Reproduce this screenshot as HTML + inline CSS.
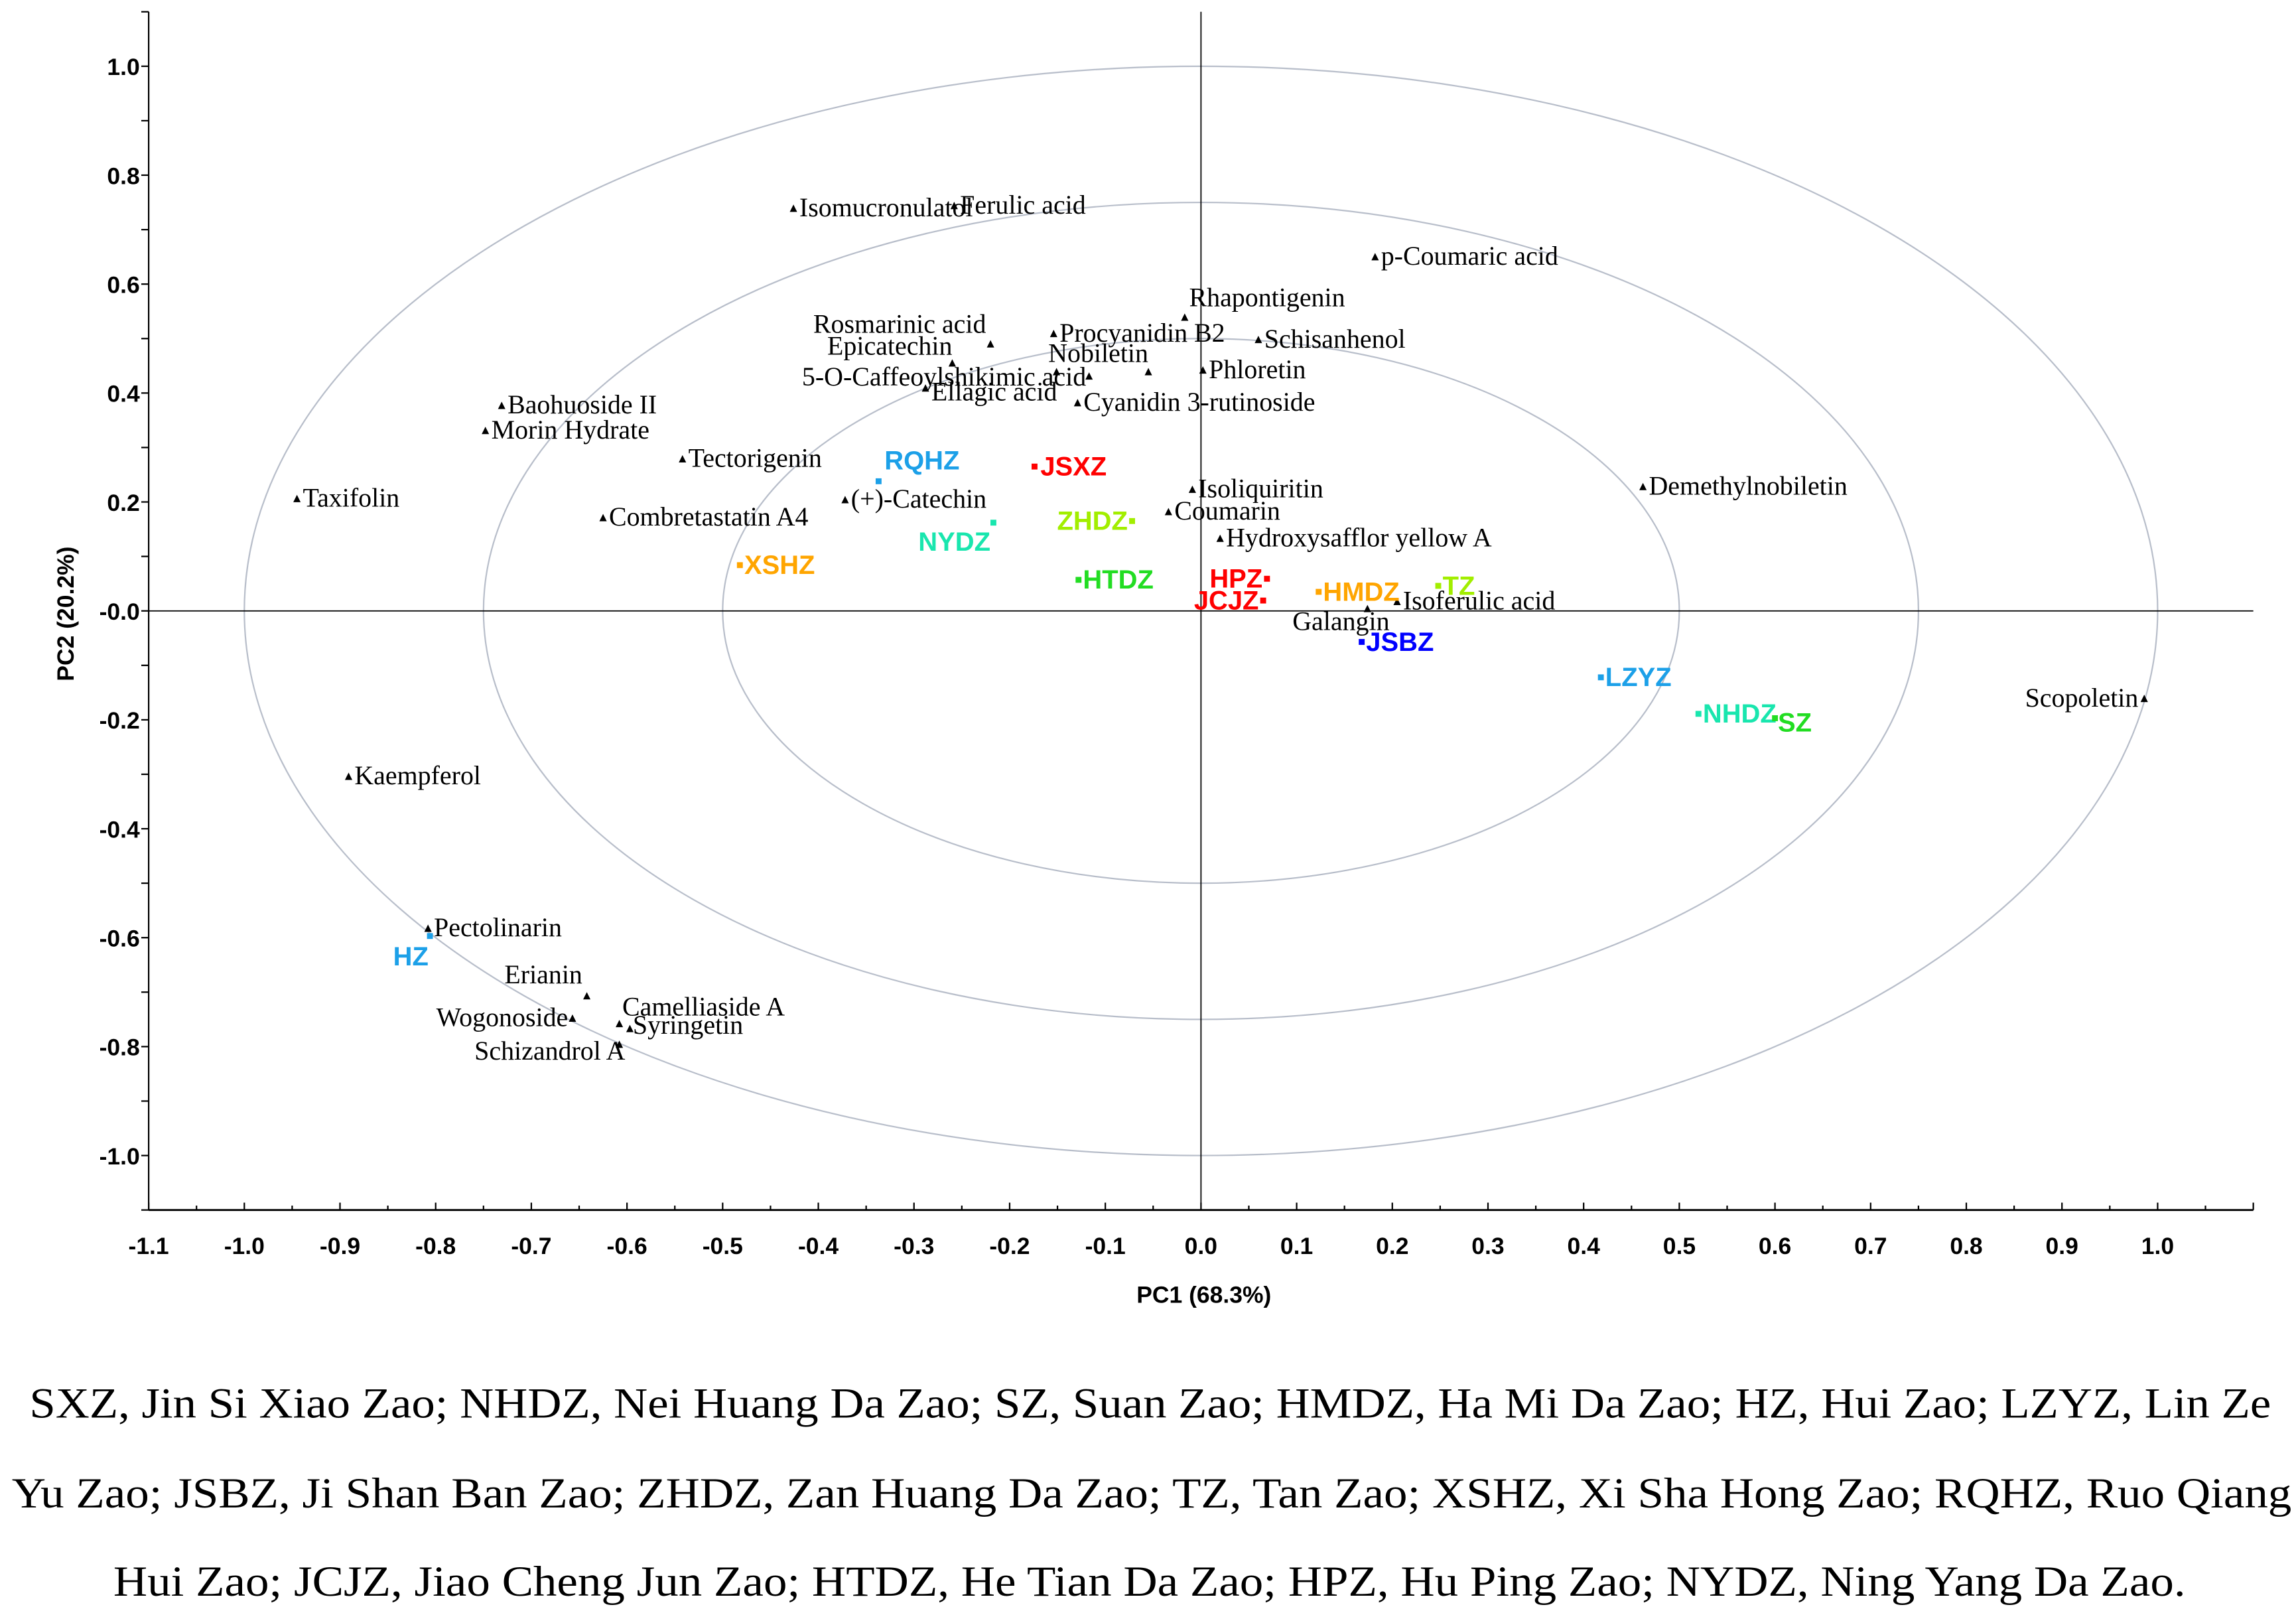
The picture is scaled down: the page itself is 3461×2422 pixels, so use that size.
<!DOCTYPE html>
<html><head><meta charset="utf-8"><style>
html,body{margin:0;padding:0;background:#fff;}
svg{display:block;}
.v{font-family:"Liberation Serif",serif;font-size:18px;fill:#000;}
.s{font-family:"Liberation Sans",sans-serif;font-size:18px;font-weight:bold;}
.t{font-family:"Liberation Sans",sans-serif;font-size:16px;font-weight:bold;fill:#000;}
.cap{font-family:"Liberation Serif",serif;font-size:29px;fill:#000;}
</style></head><body>
<svg id="chart" xmlns="http://www.w3.org/2000/svg" width="3461" height="2422" viewBox="0 0 1560 1091.7">
<rect x="0" y="0" width="1560" height="1092" fill="#fff"/>
<g id="circles"></g>
<g id="axes"></g>
<g id="vars"></g>
<g id="samples"></g>
<text class="t" x="818" y="885" text-anchor="middle">PC1 (68.3%)</text>
<text class="t" transform="translate(50,417) rotate(-90)" text-anchor="middle">PC2 (20.2%)</text>
<g>
<text class="cap" x="20" y="963" textLength="1523" lengthAdjust="spacingAndGlyphs">SXZ, Jin Si Xiao Zao; NHDZ, Nei Huang Da Zao; SZ, Suan Zao; HMDZ, Ha Mi Da Zao; HZ, Hui Zao; LZYZ, Lin Ze</text>
<text class="cap" x="8" y="1024" textLength="1549" lengthAdjust="spacingAndGlyphs">Yu Zao; JSBZ, Ji Shan Ban Zao; ZHDZ, Zan Huang Da Zao; TZ, Tan Zao; XSHZ, Xi Sha Hong Zao; RQHZ, Ruo Qiang</text>
<text class="cap" x="77" y="1084" textLength="1408" lengthAdjust="spacingAndGlyphs">Hui Zao; JCJZ, Jiao Cheng Jun Zao; HTDZ, He Tian Da Zao; HPZ, Hu Ping Zao; NYDZ, Ning Yang Da Zao.</text>
</g>
</svg>
<script>
// ---- data ----
const varNames = ["Taxifolin","Baohuoside II","Morin Hydrate","Tectorigenin","Combretastatin A4","(+)-Catechin","Isomucronulatol","Ferulic acid","Rosmarinic acid","Epicatechin","5-O-Caffeoylshikimic acid","","Nobiletin","Ellagic acid","Procyanidin B2","Rhapontigenin","Schisanhenol","Phloretin","Cyanidin 3-rutinoside","p-Coumaric acid","Isoliquiritin","Coumarin","Hydroxysafflor yellow A","Demethylnobiletin","Isoferulic acid","Galangin","Scopoletin","Kaempferol","Pectolinarin","Erianin","Wogonoside","Camelliaside A","Syringetin","Schizandrol A"];
const varPC1 = [-0.945,-0.731,-0.748,-0.542,-0.625,-0.372,-0.426,-0.258,-0.220,-0.260,-0.117,-0.151,-0.055,-0.288,-0.154,-0.017,0.060,0.002,-0.129,0.182,-0.009,-0.034,0.020,0.462,0.205,0.174,0.986,-0.891,-0.808,-0.642,-0.657,-0.608,-0.597,-0.608];
const varPC2 = [0.205,0.376,0.330,0.278,0.170,0.203,0.738,0.743,0.489,0.454,0.430,0.438,0.438,0.408,0.508,0.538,0.497,0.441,0.381,0.649,0.222,0.181,0.132,0.227,0.016,0.003,-0.162,-0.305,-0.584,-0.708,-0.749,-0.759,-0.768,-0.797];
const sampleNames = ["RQHZ","JSXZ","NYDZ","ZHDZ","XSHZ","HTDZ","HPZ","JCJZ","HMDZ","TZ","JSBZ","LZYZ","NHDZ","SZ","HZ"];
const samplePC1 = [-0.337,-0.174,-0.217,-0.072,-0.482,-0.128,0.069,0.065,0.123,0.248,0.168,0.418,0.520,0.600,-0.806];
const samplePC2 = [0.238,0.265,0.162,0.165,0.084,0.057,0.059,0.019,0.035,0.046,-0.057,-0.122,-0.189,-0.197,-0.597];
const xTicks = [-1.1,-1.0,-0.9,-0.8,-0.7,-0.6,-0.5,-0.4,-0.3,-0.2,-0.1,0.0,0.1,0.2,0.3,0.4,0.5,0.6,0.7,0.8,0.9,1.0];
const yTickLabels = ["1.0","0.8","0.6","0.4","0.2","-0.0","-0.2","-0.4","-0.6","-0.8","-1.0"];
const circleRadii = [1.0,0.75,0.5];
// ---- styling (label placement, colours) ----
const varLabelStyle = [[4,5,"start"],[4,5,"start"],[4,5,"start"],[4,5,"start"],[4,5,"start"],[4,5,"start"],[4,5,"start"],[4,5,"start"],[-3,-8,"end"],[0,-6,"end"],[-2,6,"end"],[0,0,"start"],[-68,-7,"start"],[4,8,"start"],[4,5,"start"],[3,-8,"start"],[4,5,"start"],[4,5,"start"],[4,5,"start"],[4,5,"start"],[4,5,"start"],[4,5,"start"],[4,5,"start"],[4,5,"start"],[4,5,"start"],[15,14,"end"],[-4,5,"end"],[4,5,"start"],[4,5,"start"],[-3,-9,"end"],[-3,5,"end"],[2,-6,"start"],[2,3,"start"],[4,10,"end"]];
const sampleLabelStyle = [[4,-8,"start"],[4,6,"start"],[-2,19,"end"],[-3,6,"end"],[3,6,"start"],[3,6,"start"],[-3,6,"end"],[-3,6,"end"],[3,6,"start"],[3,6,"start"],[3,6,"start"],[3,6,"start"],[3,6,"start"],[2,9,"start"],[-1,20,"end"]];
const sampleColors = ["#1CA0E8","#FF0000","#19E6AE","#A2EE00","#FFA500","#22DD22","#FF0000","#FF0000","#FFA500","#A2EE00","#0000FF","#1CA0E8","#19E6AE","#22DD22","#1CA0E8"];
// ---- scales ----
const X0=816, XU=650, Y0=415, YU=370;
const sx = v => X0 + v*XU;
const sy = v => Y0 - v*YU;
const NS="http://www.w3.org/2000/svg";
function mk(tag, attrs, parent){const e=document.createElementNS(NS,tag);for(const k in attrs)e.setAttribute(k,attrs[k]);parent.appendChild(e);return e;}
// circles
const gc=document.getElementById('circles');
circleRadii.forEach(r=>{
  const e=mk('ellipse',{cx:sx(0),cy:sy(0),rx:r*XU,ry:r*YU,fill:'none',stroke:'#B8BECA','stroke-width':1},gc);
  
  
});
// axes
const ga=document.getElementById('axes');
const yTop=sy(1.1), yBot=sy(-1.1), xL=sx(-1.1), xR=1531;
let e;
e=mk('line',{x1:xL,y1:yTop,x2:xL,y2:yBot,stroke:'#000','stroke-width':1},ga);


e=mk('line',{x1:xL,y1:yBot,x2:xR,y2:yBot,stroke:'#000','stroke-width':1.3},ga);


e=mk('line',{x1:xL,y1:sy(0),x2:xR,y2:sy(0),stroke:'#000','stroke-width':0.8},ga);


e=mk('line',{x1:sx(0),y1:yTop,x2:sx(0),y2:yBot,stroke:'#000','stroke-width':0.8},ga);


for(let i=-11;i<=11;i++){
  const yy=sy(i/10);
  e=mk('line',{x1:xL-5,y1:yy,x2:xL,y2:yy,stroke:'#000','stroke-width':1},ga);
  
  
}
yTickLabels.forEach(l=>{
  e=mk('text',{x:xL-6,y:sy(parseFloat(l))+6,'text-anchor':'end',class:'t'},ga);
  e.textContent=l;
  
  
});
for(let i=-22;i<=22;i++){
  const xx=sx(i/20); if(xx>xR)continue;
  e=mk('line',{x1:xx,y1:yBot-(i%2===0?5:3),x2:xx,y2:yBot,stroke:'#000','stroke-width':1},ga);
  
  
}
xTicks.forEach(v=>{
  e=mk('text',{x:sx(v),y:yBot+30,'text-anchor':'middle',class:'t'},ga);
  e.textContent=v.toFixed(1);
  
  
});
// variables
const gv=document.getElementById('vars');
varNames.forEach((n,i)=>{
  const x=sx(varPC1[i]), y=sy(varPC2[i]);
  e=mk('polygon',{points:`${x-2.5},${y+2} ${x+2.5},${y+2} ${x},${y-3}`,fill:'#000'},gv);
  
  
  if(n){
    const s=varLabelStyle[i];
    e=mk('text',{x:x+s[0],y:y+s[1],'text-anchor':s[2],class:'v'},gv);
    e.textContent=n;
    
    
  }
});
// samples
const gs=document.getElementById('samples');
sampleNames.forEach((n,i)=>{
  const x=sx(samplePC1[i]), y=sy(samplePC2[i]), c=sampleColors[i];
  e=mk('rect',{x:x-2,y:y-2,width:4,height:4,fill:c},gs);
  
  
  const s=sampleLabelStyle[i];
  e=mk('text',{x:x+s[0],y:y+s[1],'text-anchor':s[2],class:'s',fill:c},gs);
  e.textContent=n;
  
  
});
</script>
</body></html>
